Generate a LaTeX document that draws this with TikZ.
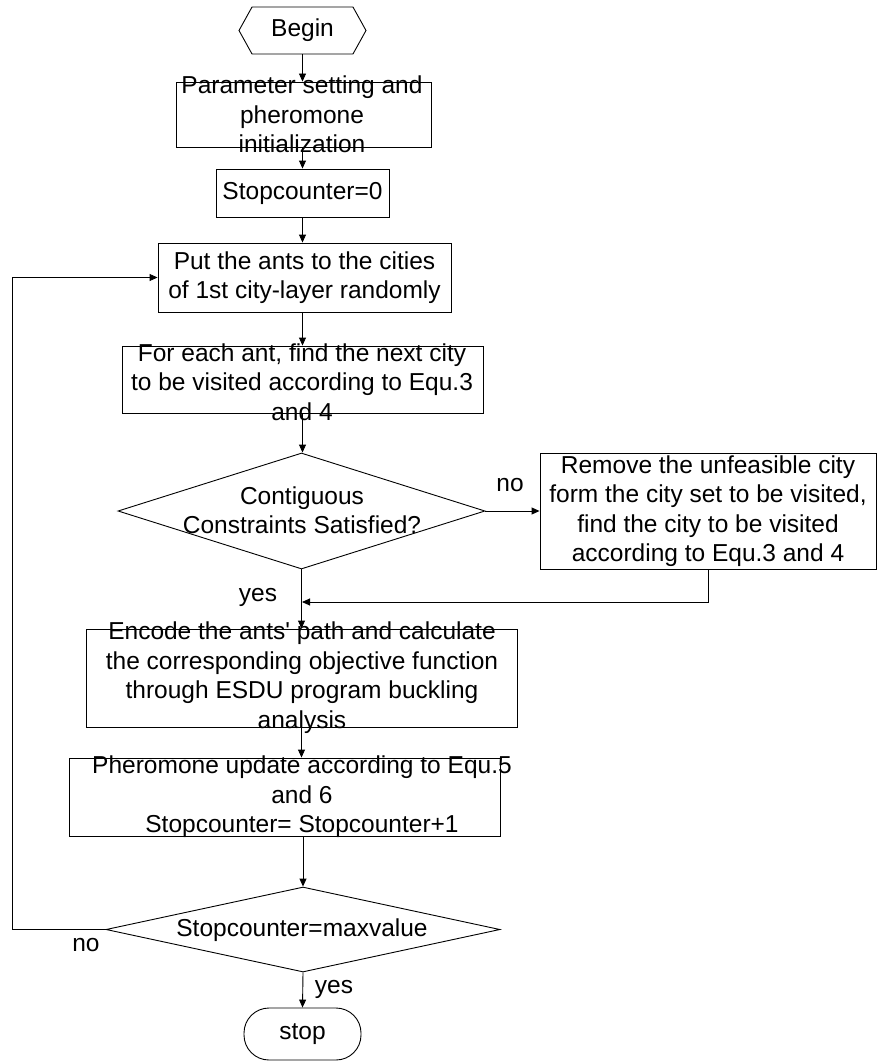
\documentclass[tikz,border=0pt]{standalone}
\usepackage{fontspec}
\setmainfont{Liberation Sans}
\usetikzlibrary{arrows.meta,shapes.geometric,shapes.symbols}

\begin{document}
\begin{tikzpicture}[
    x=1pt, y=-1pt,
    every node/.style = {font=\fontsize{24.5}{29.5}\selectfont, inner sep=0pt},
    box/.style = {draw, shape=rectangle, line width=0.9pt},
    txt/.style = {align=center},
    decision/.style = {draw, shape=diamond, line width=0.9pt},
    flow/.style = {-{Triangle[length=8pt,width=7pt]}, line width=0.9pt}
    ]
  \useasboundingbox (0,0) rectangle (877,1062);

  % boxes
  \node [draw, shape=signal, signal to=west and east, signal pointer angle=122,
         minimum width=127pt, minimum height=47pt, line width=0.9pt] (begin) at (302.5,30.5) {Begin};
  \node [box, minimum width=255pt, minimum height=65pt] (param) at (303.5,114.5) {};
  \node [txt] (paramtxt) at (302,114.5) {Parameter setting and\\pheromone\\initialization};
  \node [box, minimum width=173pt, minimum height=48pt] (init) at (302.5,193) {Stopcounter=0};
  \node [box, align=center, minimum width=293pt, minimum height=69pt] (put) at (304.5,277.5)
        {Put the ants to the cities\\of 1st city-layer randomly};
  \node [box, minimum width=361pt, minimum height=67pt] (next) at (302.5,379.5) {};
  \node [txt] (nexttxt) at (302,382) {For each ant, find the next city\\to be visited according to Equ.3\\and 4};
  \node [decision, minimum width=367pt, minimum height=116pt] (check) at (301.5,511) {};
  \node [txt] (checktxt) at (302,510) {Contiguous\\Constraints Satisfied?};
  \node [box, align=center, minimum width=336pt, minimum height=116pt] (repair) at (708,511)
        {Remove the unfeasible city\\form the city set to be visited,\\find the city to be visited\\according to Equ.3 and 4};
  \node [box, minimum width=431pt, minimum height=98pt] (encode) at (301.5,678) {};
  \node [txt] (encodetxt) at (302,677.5) {Encode the ants\textquotesingle{} path and calculate\\the corresponding objective function\\through ESDU program buckling\\analysis};
  \node [box, minimum width=431pt, minimum height=78pt] (update) at (284.5,797) {};
  \node [txt] (updatetxt) at (302,797) {Pheromone update according to Equ.5\\and 6\\Stopcounter= Stopcounter+1};
  \node [decision, minimum width=394pt, minimum height=85pt] (stopcheck) at (303,929.5) {};
  \node [txt] (stopchecktxt) at (302,930.5) {Stopcounter=maxvalue};
  \node [draw, line width=0.9pt, rounded corners=25pt, minimum width=117pt, minimum height=52pt] (stop) at (302.5,1034) {stop};

  % branch labels
  \node (no1) at (510,485) {no};
  \node (yes1) at (258,597) {yes};
  \node (no2) at (86,945) {no};
  \node (yes2) at (334,989) {yes};

  % connectors
  \coordinate (merge) at (302,602);
  \coordinate (back) at (12,929.5);
  \draw [flow] (begin.south) -- (begin.south |- param.north);
  \draw [flow] (init.north |- param.south) -- (init.north);
  \draw [flow] (init.south) -- (init.south |- put.north);
  \draw [flow] (next.north |- put.south) -- (next.north);
  \draw [flow] (next.south) -- (next.south |- check.north);
  \draw [flow] (check.east) -- (repair.west);
  \draw [flow] (check.south) -- (check.south |- encode.north);
  \draw [flow] (repair.south) |- (merge);
  \draw [flow] (encode.south) -- (encode.south |- update.north);
  \draw [flow] (stopcheck.north |- update.south) -- (stopcheck.north);
  \draw [flow] (stopcheck.west) -- (back) |- (put.west);
  \draw [flow] (stopcheck.south) -- (stop.north);
\end{tikzpicture}
\end{document}
